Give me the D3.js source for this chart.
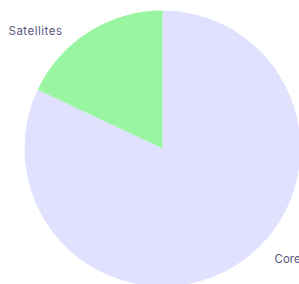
<!DOCTYPE html>
<html>
<head>
<meta charset="utf-8">
<script src="https://cdn.jsdelivr.net/npm/d3@7"></script>
<style>
  body { margin: 0; background: #fff; overflow: hidden; }
  svg { display: block; font-family: Inter, "Noto Sans", sans-serif; }
</style>
</head>
<body>
<div id="chart"></div>
<script>
const labels = ['Core', 'Satellites'];
const values = [82, 18];
const colors = ['#e0e0ff', '#9af5a2'];

const width = 299;
const height = 284;
const cx = 162.5;
const cy = 148.5;
const radius = 138;

const svg = d3.select('#chart')
    .append('svg')
    .attr('width', width)
    .attr('height', height);

const g = svg.append('g')
    .attr('transform', `translate(${cx},${cy})`);

const color = d3.scaleOrdinal()
    .domain(labels)
    .range(colors);

const pie = d3.pie()
    .value(d => d.value)
    .sort(null);

const arc = d3.arc()
    .innerRadius(0)
    .outerRadius(radius);

const data = labels.map((l, i) => ({ label: l, value: values[i] }));

g.selectAll('path')
    .data(pie(data))
    .enter()
    .append('path')
    .attr('d', arc)
    .attr('fill', d => color(d.data.label));

// labels sit off the pie on the diagonal of their side
g.selectAll('text')
    .data(pie(data))
    .enter()
    .append('text')
    .attr('x', d => {
        const mid = (d.startAngle + d.endAngle) / 2;
        return Math.sin(mid) > 0 ? 112 : -100;
    })
    .attr('y', d => {
        const mid = (d.startAngle + d.endAngle) / 2;
        return Math.cos(mid) < 0 ? 110 : -118;
    })
    .attr('dy', '0.35em')
    .attr('text-anchor', d => Math.sin((d.startAngle + d.endAngle) / 2) > 0 ? 'start' : 'end')
    .attr('fill', '#58587e')
    .style('font-size', '11.5px')
    .style('letter-spacing', d => d.data.label === 'Core' ? '0px' : '0.5px')
    .text(d => d.data.label);
</script>
</body>
</html>
